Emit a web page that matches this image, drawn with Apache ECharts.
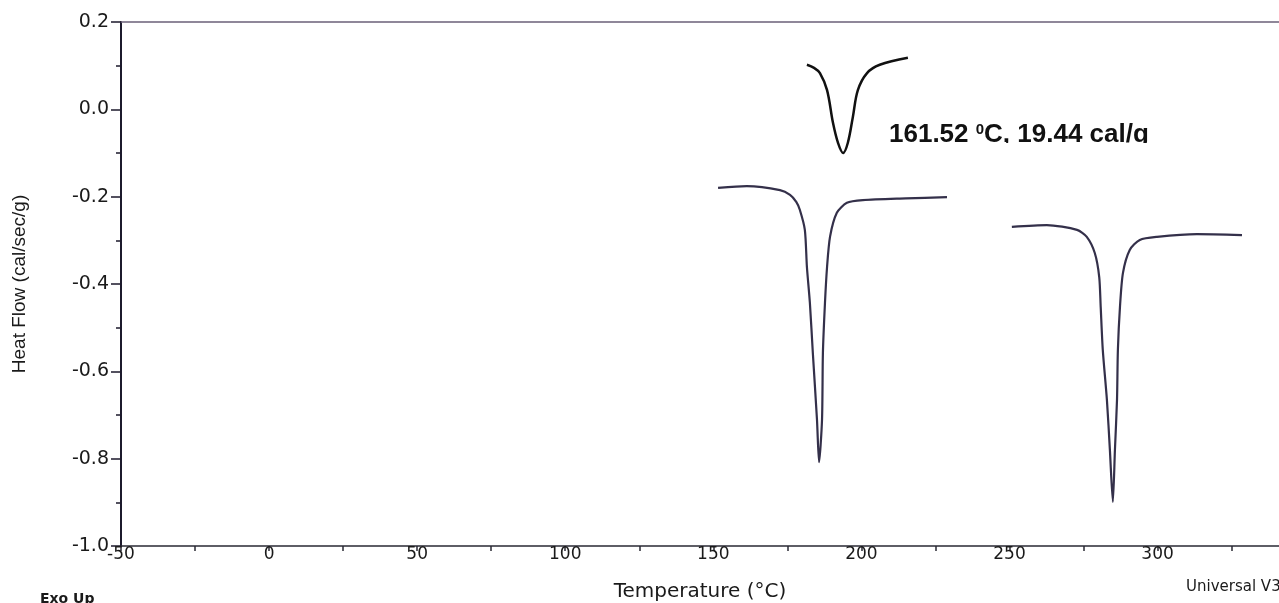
<!DOCTYPE html>
<html>
<head>
<meta charset="utf-8">
<script src="https://cdn.jsdelivr.net/npm/echarts@6/dist/echarts.min.js"></script>
<style>
  html, body { margin: 0; padding: 0; background: #fff; }
  #chart { width: 1279px; height: 603px; }
</style>
</head>
<body>
<div id="chart"></div>
<script>
// left big endotherm (pasted trace)
const peakATemp = [151.6, 161.3, 172.5, 175.9, 178.0, 179.2, 180.9, 181.6, 182.6, 183.6, 185.0, 185.7, 186.7, 187.0, 187.7, 188.4, 189.4, 191.7, 195.1, 200.5, 215.0, 228.9];
const peakAFlow = [-0.180, -0.176, -0.185, -0.196, -0.212, -0.230, -0.276, -0.361, -0.443, -0.558, -0.711, -0.808, -0.711, -0.558, -0.443, -0.361, -0.292, -0.237, -0.214, -0.208, -0.204, -0.201];

// right big endotherm (pasted trace)
const peakBTemp = [250.8, 262.6, 272.8, 276.1, 278.8, 280.3, 280.8, 281.5, 282.9, 283.9, 284.9, 285.6, 286.3, 286.6, 287.3, 288.3, 290.6, 294.0, 299.8, 313.3, 328.5];
const peakBFlow = [-0.269, -0.265, -0.276, -0.292, -0.329, -0.384, -0.453, -0.551, -0.666, -0.780, -0.899, -0.780, -0.666, -0.551, -0.453, -0.375, -0.322, -0.299, -0.292, -0.286, -0.288];

// small inset peak at the top
const peakCTemp = [181.6, 184.0, 186.0, 188.4, 190.4, 192.1, 193.8, 195.4, 197.1, 198.8, 201.9, 206.2, 215.7];
const peakCFlow = [0.102, 0.095, 0.083, 0.044, -0.031, -0.077, -0.100, -0.077, -0.018, 0.044, 0.083, 0.102, 0.118];

const tempTicks = [-50, 0, 50, 100, 150, 200, 250, 300];
const flowTicks = [-1.0, -0.8, -0.6, -0.4, -0.2, 0.0, 0.2];

const peakLabel = '161.52 {sup|0}C, 19.44 cal/g';

const zip = (xs, ys) => xs.map((x, i) => [x, ys[i]]);

const chart = echarts.init(document.getElementById('chart'), null, { renderer: 'canvas' });

const axisInk = '#1c1a2c';
const tempMax = 341;

const option = {
  animation: false,
  backgroundColor: '#fff',
  grid: { left: 121, right: 0, top: 22, bottom: 57, outerBoundsMode: 'none' },
  xAxis: [
    {
      type: 'value',
      min: tempTicks[0],
      max: tempMax,
      interval: 25,
      name: 'Temperature (°C)',
      nameLocation: 'middle',
      nameGap: 36,
      nameTextStyle: { fontFamily: 'DejaVu Sans', fontSize: 20, color: '#1a1a1a' },
      axisLine: { show: true, onZero: false, lineStyle: { color: '#2a2a35', width: 1.5 } },
      axisTick: { show: true, length: 5, lineStyle: { color: '#2a2a35', width: 1.5 } },
      splitLine: { show: false },
      axisLabel: {
        fontFamily: 'DejaVu Sans',
        fontSize: 17,
        color: '#1a1a1a',
        margin: 0,
        showMaxLabel: false,
        formatter: v => (tempTicks.includes(v) ? String(v) : '')
      }
    },
    {
      type: 'value',
      position: 'top',
      min: tempTicks[0],
      max: tempMax,
      axisLine: { show: true, onZero: false, lineStyle: { color: '#6b6078', width: 1.5 } },
      axisTick: { show: false },
      axisLabel: { show: false },
      splitLine: { show: false }
    }
  ],
  yAxis: {
    type: 'value',
    min: flowTicks[0],
    max: flowTicks[flowTicks.length - 1],
    interval: 0.2,
    name: 'Heat Flow (cal/sec/g)',
    nameLocation: 'middle',
    nameGap: 92,
    nameTextStyle: { fontFamily: 'Liberation Sans', fontSize: 19, color: '#1a1a1a' },
    axisLine: { show: true, onZero: false, lineStyle: { color: axisInk, width: 2 } },
    axisTick: { show: true, length: 10, lineStyle: { color: axisInk, width: 1.5 } },
    minorTick: { show: true, splitNumber: 2, length: 5, lineStyle: { color: axisInk, width: 1.5 } },
    splitLine: { show: false },
    axisLabel: {
      fontFamily: 'DejaVu Sans',
      fontSize: 19,
      color: '#1a1a1a',
      margin: 12,
      formatter: v => v.toFixed(1)
    }
  },
  series: [
    {
      type: 'line',
      data: zip(peakATemp, peakAFlow),
      showSymbol: false,
      smooth: 0.25,
      lineStyle: { color: '#34304a', width: 2.2 }
    },
    {
      type: 'line',
      data: zip(peakBTemp, peakBFlow),
      showSymbol: false,
      smooth: 0.25,
      lineStyle: { color: '#34304a', width: 2.2 }
    },
    {
      type: 'line',
      data: zip(peakCTemp, peakCFlow),
      showSymbol: false,
      smooth: 0.35,
      lineStyle: { color: '#111', width: 2.5 }
    }
  ],
  graphic: [
    {
      type: 'text',
      left: 889,
      top: 122,
      z: 10,
      style: {
        text: peakLabel,
        fontFamily: 'Liberation Sans',
        fontWeight: 'bold',
        fontSize: 26,
        fill: '#111',
        rich: {
          sup: { fontFamily: 'Liberation Sans', fontWeight: 'bold', fontSize: 15, verticalAlign: 'top', fill: '#111' }
        }
      }
    },
    {
      // the pasted label was cropped along its bottom edge
      type: 'rect',
      z: 11,
      shape: { x: 880, y: 143, width: 300, height: 22 },
      style: { fill: '#fff' }
    },
    {
      type: 'text',
      left: 40,
      top: 592,
      style: { text: 'Exo Up', fontFamily: 'DejaVu Sans', fontWeight: 'bold', fontSize: 14, fill: '#1a1a1a' }
    },
    {
      type: 'text',
      left: 1186,
      top: 580,
      style: { text: 'Universal V3', fontFamily: 'DejaVu Sans', fontSize: 15, fill: '#1a1a1a' }
    }
  ]
};

chart.setOption(option);
</script>
</body>
</html>
